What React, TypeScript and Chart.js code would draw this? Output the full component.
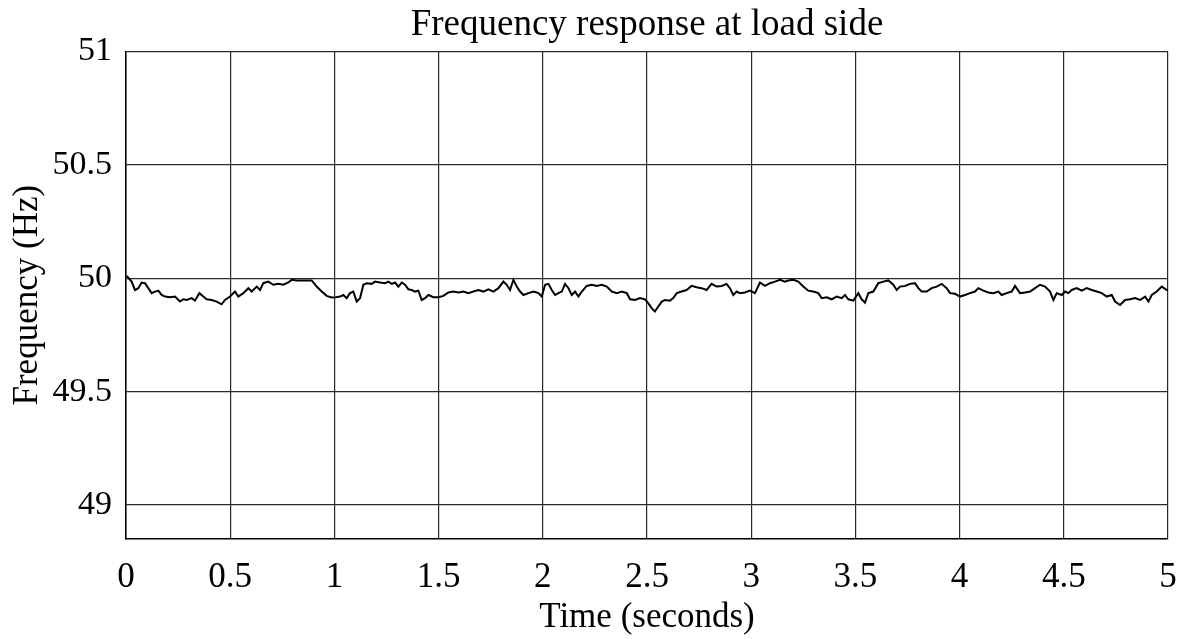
import React, { useEffect, useRef } from "react";
import { Chart, registerables } from "chart.js";

Chart.register(...registerables);

const times: number[] = [
  0.003, 0.027, 0.043, 0.059, 0.075, 0.091, 0.107, 0.123, 0.139, 0.155, 0.171, 0.187, 0.211, 0.235, 0.259, 0.275, 0.291, 0.315, 0.331, 0.352, 0.371, 0.387, 0.411, 0.435, 0.459, 0.475, 0.499,
  0.523, 0.539, 0.563, 0.587, 0.603, 0.627, 0.643, 0.659, 0.683, 0.707, 0.731, 0.755, 0.779, 0.795, 0.819, 0.843, 0.867, 0.891, 0.915, 0.939, 0.963, 0.987,
  1.008, 1.027, 1.043, 1.059, 1.075, 1.091, 1.107, 1.123, 1.139, 1.155, 1.179, 1.195, 1.219, 1.243, 1.259, 1.275, 1.291, 1.307, 1.323, 1.339, 1.355, 1.371, 1.387, 1.403, 1.419, 1.435, 1.451, 1.475, 1.499,
  1.523, 1.547, 1.571, 1.595, 1.619, 1.643, 1.667, 1.691, 1.715, 1.739, 1.763, 1.787, 1.811, 1.827, 1.843, 1.859, 1.875, 1.891, 1.907, 1.931, 1.955, 1.979, 1.995,
  2.011, 2.027, 2.043, 2.059, 2.075, 2.091, 2.107, 2.123, 2.139, 2.155, 2.171, 2.187, 2.211, 2.235, 2.259, 2.283, 2.307, 2.331, 2.355, 2.379, 2.403, 2.419, 2.443, 2.466, 2.49,
  2.506, 2.523, 2.538, 2.554, 2.571, 2.586, 2.61, 2.626, 2.643, 2.666, 2.69, 2.714, 2.738, 2.762, 2.786, 2.81, 2.834, 2.858, 2.882, 2.898, 2.914, 2.93, 2.946, 2.97, 2.994,
  3.018, 3.042, 3.066, 3.09, 3.114, 3.138, 3.162, 3.178, 3.202, 3.226, 3.25, 3.274, 3.298, 3.322, 3.338, 3.362, 3.386, 3.41, 3.434, 3.45, 3.466, 3.49,
  3.514, 3.53, 3.546, 3.562, 3.586, 3.61, 3.634, 3.658, 3.682, 3.698, 3.714, 3.738, 3.762, 3.786, 3.802, 3.818, 3.842, 3.866, 3.89, 3.914, 3.938, 3.954, 3.978,
  4.002, 4.026, 4.05, 4.074, 4.09, 4.114, 4.138, 4.162, 4.186, 4.202, 4.226, 4.25, 4.266, 4.29, 4.314, 4.338, 4.362, 4.386, 4.41, 4.434, 4.45, 4.466, 4.49,
  4.506, 4.522, 4.538, 4.562, 4.586, 4.61, 4.634, 4.658, 4.682, 4.706, 4.73, 4.746, 4.77, 4.794, 4.818, 4.842, 4.866, 4.89, 4.906, 4.922, 4.946, 4.97, 4.994, 5.0,
];

const freqs: number[] = [
  50.01, 49.985, 49.948, 49.956, 49.981, 49.978, 49.956, 49.934, 49.941, 49.945, 49.926, 49.919, 49.916, 49.919, 49.897, 49.907, 49.904, 49.912, 49.901, 49.934, 49.919, 49.907, 49.904, 49.897, 49.885, 49.904, 49.919,
  49.941, 49.919, 49.934, 49.956, 49.941, 49.963, 49.948, 49.978, 49.985, 49.971, 49.975, 49.971, 49.981, 49.993, 49.99, 49.99, 49.99, 49.99, 49.963, 49.941, 49.922, 49.915,
  49.916, 49.919, 49.926, 49.912, 49.934, 49.941, 49.897, 49.912, 49.971, 49.978, 49.975, 49.985, 49.981, 49.978, 49.985, 49.975, 49.981, 49.963, 49.981, 49.971, 49.951, 49.948, 49.941, 49.945, 49.904, 49.912, 49.926, 49.916, 49.916,
  49.922, 49.937, 49.941, 49.937, 49.941, 49.934, 49.941, 49.948, 49.941, 49.951, 49.941, 49.956, 49.985, 49.971, 49.948, 49.993, 49.963, 49.941, 49.926, 49.934, 49.941, 49.934, 49.919,
  49.971, 49.975, 49.948, 49.926, 49.934, 49.941, 49.975, 49.956, 49.926, 49.941, 49.919, 49.941, 49.966, 49.971, 49.966, 49.971, 49.963, 49.941, 49.934, 49.941, 49.934, 49.907, 49.904, 49.912, 49.907,
  49.89, 49.867, 49.853, 49.875, 49.897, 49.904, 49.901, 49.912, 49.934, 49.941, 49.948, 49.966, 49.96, 49.956, 49.948, 49.975, 49.963, 49.966, 49.975, 49.956, 49.926, 49.941, 49.934, 49.937, 49.945,
  49.934, 49.981, 49.966, 49.978, 49.985, 49.993, 49.985, 49.99, 49.993, 49.985, 49.963, 49.945, 49.941, 49.934, 49.912, 49.916, 49.907, 49.919, 49.912, 49.926, 49.907, 49.901,
  49.934, 49.907, 49.892, 49.934, 49.941, 49.978, 49.985, 49.99, 49.971, 49.948, 49.963, 49.966, 49.975, 49.978, 49.956, 49.941, 49.941, 49.956, 49.963, 49.975, 49.956, 49.934, 49.931,
  49.919, 49.926, 49.934, 49.941, 49.956, 49.945, 49.937, 49.934, 49.941, 49.926, 49.934, 49.941, 49.966, 49.934, 49.937, 49.941, 49.956, 49.971, 49.963, 49.941, 49.904, 49.934, 49.926,
  49.941, 49.934, 49.948, 49.956, 49.945, 49.956, 49.948, 49.941, 49.934, 49.919, 49.926, 49.897, 49.882, 49.904, 49.907, 49.912, 49.904, 49.919, 49.897, 49.926, 49.941, 49.963, 49.948, 49.948,
];

const xTicks: number[] = [0, 0.5, 1, 1.5, 2, 2.5, 3, 3.5, 4, 4.5, 5];
const yTicks: number[] = [49, 49.5, 50, 50.5, 51];

const FONT = "'Liberation Serif', 'Times New Roman', serif";

export default function App() {
  const ref = useRef<HTMLCanvasElement | null>(null);

  useEffect(() => {
    if (!ref.current) return;
    const points = times.map((t, i) => ({ x: t, y: freqs[i] }));
    const chart = new Chart(ref.current, {
      type: "line",
      data: {
        datasets: [
          {
            data: points,
            borderColor: "#000000",
            borderWidth: 2,
            pointRadius: 0,
            tension: 0,
            fill: false,
          },
        ],
      },
      options: {
        responsive: false,
        animation: false,
        layout: { padding: { left: 0, right: 12, top: 0, bottom: 0 } },
        plugins: {
          legend: { display: false },
          tooltip: { enabled: false },
          title: {
            display: true,
            fullSize: false,
            text: "Frequency response at load side",
            color: "#000000",
            font: { family: FONT, size: 37, weight: "normal" },
            padding: { top: 3, bottom: 4 },
          },
        },
        scales: {
          x: {
            type: "linear",
            min: 0,
            max: 5,
            afterBuildTicks: (scale: any) => {
              scale.ticks = xTicks.map((v) => ({ value: v }));
            },
            afterFit: (scale: any) => {
              scale.height = 100;
              scale.paddingRight = 0;
              scale.paddingLeft = 0;
            },
            ticks: {
              color: "#000000",
              font: { family: FONT, size: 35 },
              padding: 18,
              maxRotation: 0,
              autoSkip: false,
              callback: (v: any) => String(v),
            },
            grid: { color: "#2a2a2a", lineWidth: 1.2, drawTicks: false },
            border: { color: "#000000", width: 1.5 },
            title: {
              display: true,
              text: "Time (seconds)",
              color: "#000000",
              font: { family: FONT, size: 35 },
              padding: { top: 4, bottom: 0 },
            },
          },
          y: {
            type: "linear",
            min: 48.85,
            max: 51,
            afterBuildTicks: (scale: any) => {
              scale.ticks = yTicks.map((v) => ({ value: v }));
            },
            afterFit: (scale: any) => {
              scale.width = 126;
            },
            ticks: {
              color: "#000000",
              font: { family: FONT, size: 34 },
              padding: 14,
              autoSkip: false,
              callback: (v: any) => String(v),
            },
            grid: { color: "#2a2a2a", lineWidth: 1.2, drawTicks: false },
            border: { color: "#000000", width: 1.5 },
            title: {
              display: true,
              text: "Frequency (Hz)",
              color: "#000000",
              font: { family: FONT, size: 35 },
              padding: { top: 7, bottom: 4 },
            },
          },
        },
      },
    });
    return () => chart.destroy();
  }, []);

  return (
    <div style={{ position: "fixed", left: 0, top: 0, width: 1180, height: 639, background: "#ffffff" }}>
      <canvas ref={ref} width={1180} height={639} style={{ width: 1180, height: 639 }} />
    </div>
  );
}
